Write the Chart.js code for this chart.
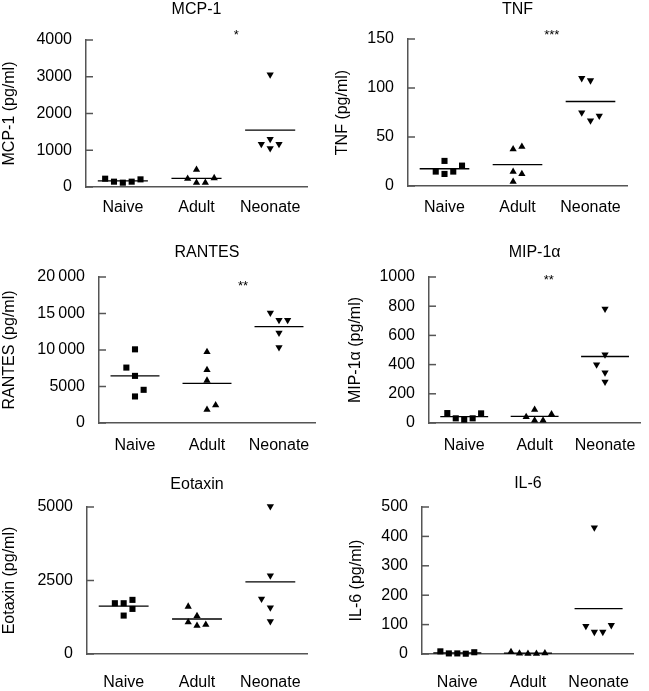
<!DOCTYPE html>
<html>
<head>
<meta charset="utf-8">
<script src="https://cdn.jsdelivr.net/npm/chart.js@4.4.0/dist/chart.umd.min.js"></script>
<style>
  body { margin: 0; background: #fff; }
  #wrap { position: relative; width: 649px; height: 691px; }
  canvas { position: absolute; }
</style>
</head>
<body>
<div id="wrap">
  <canvas id="mcp" width="325" height="230" style="left:0px;top:0px"></canvas>
  <canvas id="tnf" width="324" height="230" style="left:325px;top:0px"></canvas>
  <canvas id="rantes" width="325" height="230" style="left:0px;top:230px"></canvas>
  <canvas id="mip" width="324" height="230" style="left:325px;top:230px"></canvas>
  <canvas id="eotaxin" width="325" height="231" style="left:0px;top:460px"></canvas>
  <canvas id="il6" width="324" height="231" style="left:325px;top:460px"></canvas>
</div>
<script>
const groups = ["Naive", "Adult", "Neonate"]

// pg/ml, 5 animals per group
const mcpNaive = [226, 145, 118, 145, 208]
const mcpAdult = [226, 471, 118, 118, 244]
const mcpNeonate = [3059, 1167, 1303, 1050, 1167]

const tnfNaive = [14.7, 25.6, 12.3, 14.7, 20.8]
const tnfAdult = [37.5, 40.2, 14.7, 12.3, 4.4]
const tnfNeonate = [110, 107.7, 75, 66.8, 71.6]

const rantesNaive = [10091, 7591, 6455, 4545, 3636]
const rantesAdult = [9727, 7273, 5818, 2455, 1818]
const rantesNeonate = [15091, 14091, 14091, 12364, 10364]

const mipNaive = [68, 32, 23, 32, 66]
const mipAdult = [41, 91, 18, 18, 61]
const mipNeonate = [782, 468, 400, 345, 282]

const eotaxinNaive = [1727, 1727, 1841, 1307, 1534]
const eotaxinAdult = [1614, 1295, 1080, 966, 1000]
const eotaxinNeonate = [5023, 2670, 1875, 1580, 1114]

const il6Naive = [9, 2, 2, 1, 6]
const il6Adult = [7, 2, 1, 1, 3]
const il6Neonate = [430, 95, 75, 75, 98]

// y axis ticks
const mcpTicks = [0, 1000, 2000, 3000, 4000]
const tnfTicks = [0, 50, 100, 150]
const rantesTicks = [0, 5000, 10000, 15000, 20000]
const mipTicks = [0, 200, 400, 600, 800, 1000]
const eotaxinTicks = [0, 2500, 5000]
const il6Ticks = [0, 100, 200, 300, 400, 500]

// horizontal slot of each dot inside its group (the spread of the dot plot)
const mcpSlots = [[-2, -1, 0, 1, 2], [-1, 0, 0, 1, 2], [0, -1, 0, 0, 1]]
const tnfSlots = [[-1, 0, 0, 1, 2], [-0.5, 0.5, -0.5, 0.5, -0.5], [-1, 0, -1, 0, 1]]
const rantesSlots = [[0, -1, 0, 1, 0], [0, 0, 0, 1, 0], [-1, 0, 1, 0, 0]]
const mipSlots = [[-2, -1, 0, 1, 2], [-1, 0, 0, 1, 2], [0, 0, -1, 0, 0]]
const eotaxinSlots = [[-1, 0, 1, 0, 1], [-1, 0, -1, 0, 1], [0, 0, -1, 0, 0]]
const il6Slots = [[-2, -1, 0, 1, 2], [-2, -1, 0, 1, 2], [-0.5, -1.5, -0.5, 0.5, 1.5]]

const ink = "#000"
const axisColor = "#555"
const slotWidth = 0.12
const meanHalf = 0.34
const shapes = [
  { pointStyle: "rect", radius: 4.3, rotation: 0 },
  { pointStyle: "triangle", radius: 4.2, rotation: 0 },
  { pointStyle: "triangle", radius: 4.2, rotation: 180 }
]

Chart.defaults.font.family = "'Liberation Sans', Arial, sans-serif"
Chart.defaults.font.size = 16
Chart.defaults.color = ink

const thinSpace = v => v >= 10000 ? String(v).slice(0, -3) + "\u2009" + String(v).slice(-3) : String(v)

// titles, significance stars and inward tick marks
const decorations = {
  id: "decorations",
  afterDraw(chart, args, opts) {
    const { ctx, chartArea, scales } = chart
    const y = scales.y
    ctx.save()
    ctx.strokeStyle = axisColor
    ctx.lineWidth = 1.5
    y.ticks.forEach(t => {
      const py = y.getPixelForValue(t.value)
      ctx.beginPath()
      ctx.moveTo(chartArea.left, py)
      ctx.lineTo(chartArea.left + 7, py)
      ctx.stroke()
    })
    ctx.fillStyle = ink
    ctx.textAlign = "center"
    ctx.textBaseline = "middle"
    ctx.font = "16px 'Liberation Sans', Arial, sans-serif"
    ctx.fillText(opts.title, (chartArea.left + chartArea.right) / 2, opts.titleY)
    if (opts.star) {
      ctx.font = "13px 'Liberation Sans', Arial, sans-serif"
      ctx.fillText(opts.star, scales.x.getPixelForValue(opts.starX), y.getPixelForValue(opts.starY) + 3)
    }
    ctx.restore()
  }
}

function mean(arr) {
  return arr.reduce((a, b) => a + b, 0) / arr.length
}

function makePanel(p) {
  const canvas = document.getElementById(p.id)
  const w = canvas.width, h = canvas.height
  const datasets = []
  p.values.forEach((vals, g) => {
    datasets.push({
      type: "scatter",
      data: vals.map((v, i) => ({ x: g + p.slots[g][i] * slotWidth, y: v })),
      pointStyle: shapes[g].pointStyle,
      pointRadius: shapes[g].radius,
      pointRotation: shapes[g].rotation,
      pointBackgroundColor: ink,
      pointBorderWidth: 0,
      clip: false
    })
    const m = mean(vals)
    datasets.push({
      type: "line",
      data: [{ x: g - meanHalf, y: m }, { x: g + meanHalf, y: m }],
      borderColor: ink,
      borderWidth: 1.3,
      pointRadius: 0,
      clip: false
    })
  })

  new Chart(canvas, {
    type: "scatter",
    data: { datasets },
    options: {
      responsive: false,
      animation: false,
      events: [],
      layout: { padding: { left: 0, top: p.plot[2], right: w - p.plot[1], bottom: 0 } },
      scales: {
        x: {
          type: "linear",
          min: -0.5,
          max: 2.5,
          afterBuildTicks: s => { s.ticks = groups.map((c, i) => ({ value: i })) },
          afterFit: s => { s.height = h - p.plot[3] },
          ticks: { callback: v => groups[v], padding: p.labelPad, maxRotation: 0, autoSkip: false },
          grid: { display: true, drawOnChartArea: false, drawTicks: false },
          border: { color: axisColor, width: 1.5 }
        },
        y: {
          min: 0,
          max: p.ticks[p.ticks.length - 1],
          afterBuildTicks: s => { s.ticks = p.ticks.map(v => ({ value: v })) },
          afterFit: s => { s.width = p.plot[0] },
          ticks: { callback: p.format || (v => String(v)), padding: 14 },
          grid: { display: true, drawOnChartArea: false, drawTicks: false },
          border: { color: axisColor, width: 1.5 },
          title: { display: true, text: p.axisTitle, padding: { top: p.axisPad, bottom: 0 } }
        }
      },
      plugins: {
        legend: { display: false },
        tooltip: { enabled: false },
        decorations: { title: p.title, titleY: p.titleY, star: p.star, starX: p.starX, starY: p.starY }
      }
    },
    plugins: [decorations]
  })
}

// plot = [left, right, top, bottom] of the plot area inside each canvas
makePanel({ id: "mcp", title: "MCP-1", axisTitle: "MCP-1 (pg/ml)", values: [mcpNaive, mcpAdult, mcpNeonate],
  slots: mcpSlots, ticks: mcpTicks, plot: [86, 307, 40, 187], titleY: 10, axisPad: 0, labelPad: 11,
  star: "*", starX: 1.54, starY: 4218 })
makePanel({ id: "tnf", title: "TNF", axisTitle: "TNF (pg/ml)", values: [tnfNaive, tnfAdult, tnfNeonate],
  slots: tnfSlots, ticks: tnfTicks, plot: [83, 302, 39, 186], titleY: 10, axisPad: 8, labelPad: 12,
  star: "***", starX: 1.47, starY: 157 })
makePanel({ id: "rantes", title: "RANTES", axisTitle: "RANTES (pg/ml)", values: [rantesNaive, rantesAdult, rantesNeonate],
  slots: rantesSlots, ticks: rantesTicks, plot: [99, 315, 47, 193], titleY: 23, axisPad: 0, labelPad: 13,
  star: "**", starX: 1.5, starY: 19180, format: thinSpace })
makePanel({ id: "mip", title: "MIP-1α", axisTitle: "MIP-1α (pg/ml)", values: [mipNaive, mipAdult, mipNeonate],
  slots: mipSlots, ticks: mipTicks, plot: [104, 323, 47, 193], titleY: 23, axisPad: 21, labelPad: 13,
  star: "**", starX: 1.2, starY: 1000 })
makePanel({ id: "eotaxin", title: "Eotaxin", axisTitle: "Eotaxin (pg/ml)", values: [eotaxinNaive, eotaxinAdult, eotaxinNeonate],
  slots: eotaxinSlots, ticks: eotaxinTicks, plot: [87, 307, 47, 194], titleY: 25, axisPad: 0, labelPad: 19 })
makePanel({ id: "il6", title: "IL-6", axisTitle: "IL-6 (pg/ml)", values: [il6Naive, il6Adult, il6Neonate],
  slots: il6Slots, ticks: il6Ticks, plot: [97, 317, 47, 194], titleY: 24, axisPad: 22, labelPad: 19 })
</script>
</body>
</html>
